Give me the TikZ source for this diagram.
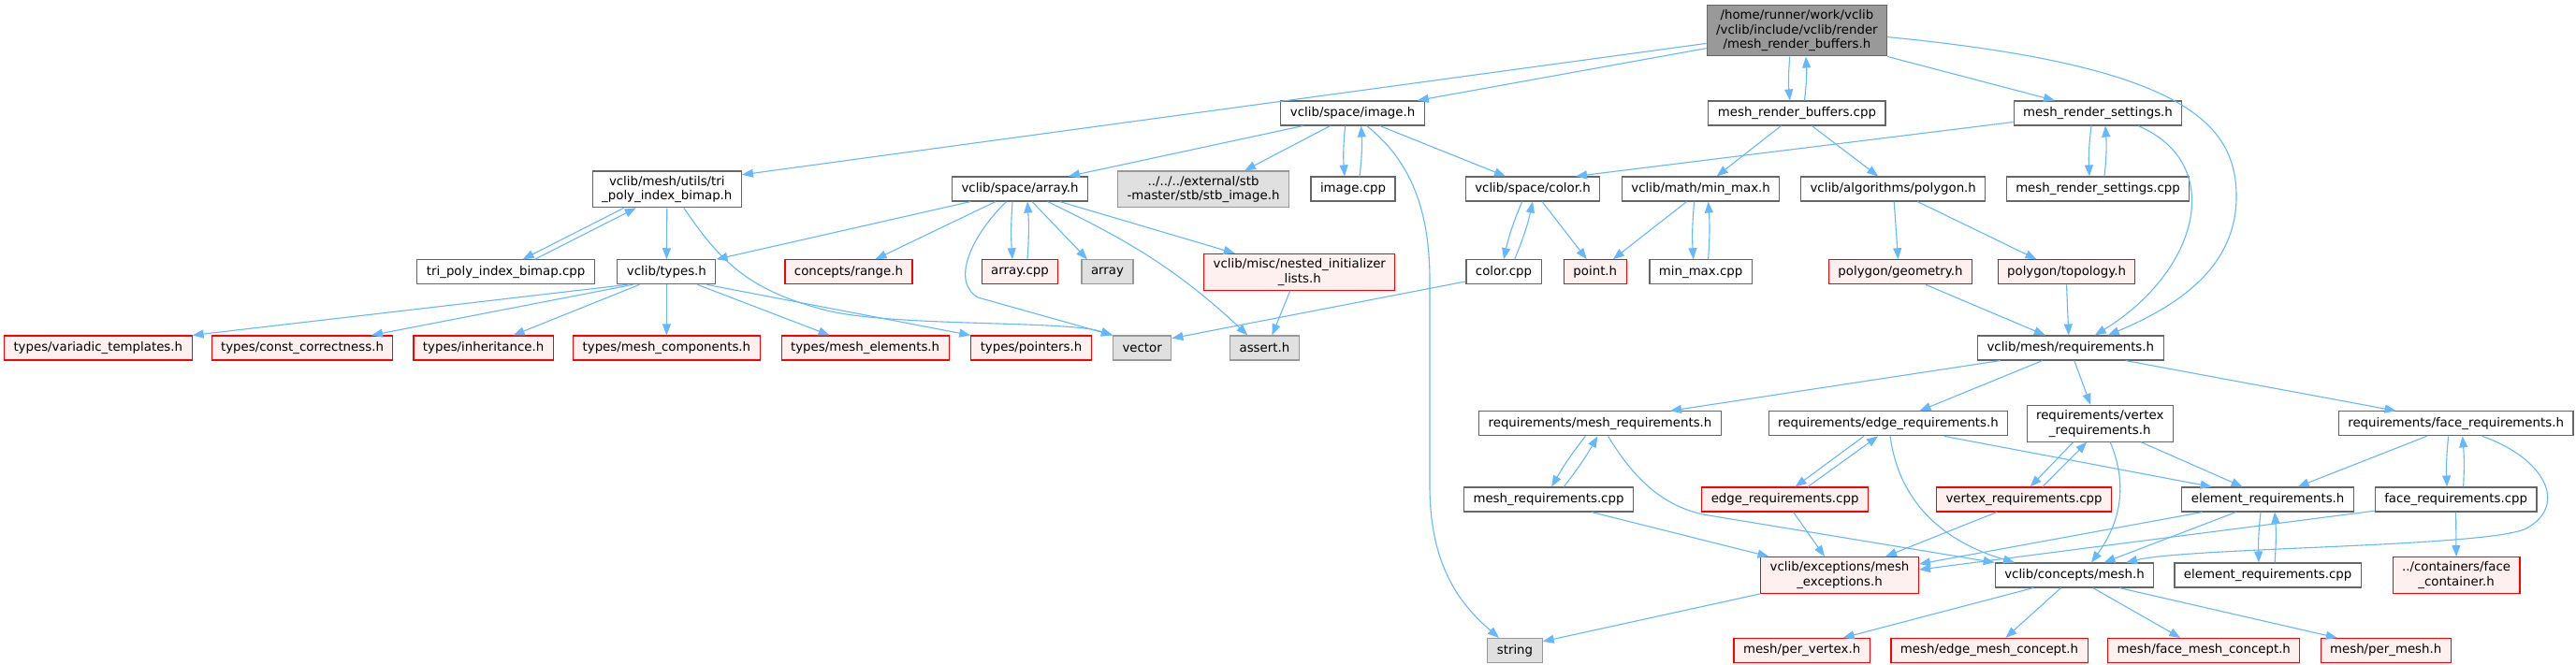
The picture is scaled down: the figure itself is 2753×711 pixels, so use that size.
\documentclass[tikz,border=0pt]{standalone}
\usepackage{fontspec}
\setmainfont{DejaVu Sans}
\usepackage{tikz}
\usetikzlibrary{arrows.meta}
\definecolor{depblue}{HTML}{63B8FF}
\definecolor{grey40}{HTML}{666666}
\definecolor{grey60}{HTML}{999999}
\definecolor{grey87}{HTML}{E0E0E0}
\definecolor{pinkfill}{HTML}{FFF0F0}
\begin{document}
\begin{tikzpicture}[x=1pt,y=-1pt,
  file/.style={draw=grey40,fill=white,line width=1.1pt,inner xsep=10pt,inner ysep=5pt,
    minimum height=26pt,align=center,font=\fontsize{13.33}{15.5}\selectfont},
  main/.style={file,fill=grey60},
  sys/.style={file,draw=grey60,fill=grey87},
  part/.style={file,draw=red,fill=pinkfill},
  dep/.style={draw=depblue,line width=1.1pt,-{Triangle[length=12pt,width=9pt]}}]
\useasboundingbox[fill=white] (0,0) rectangle (2753,711);

\node[main] (buf) at (1920.4,32.8) {/home/runner/work/vclib\\/vclib/include/vclib/render\\/mesh\_render\_buffers.h};
\node[file] (bufcpp) at (1920.4,121) {mesh\_render\_buffers.cpp};
\node[file] (settings) at (2242,121) {mesh\_render\_settings.h};
\node[file] (image) at (1445.6,121) {vclib/space/image.h};

\node[file] (tri) at (712.8,202.4) {vclib/mesh/utils/tri\\\_poly\_index\_bimap.h};
\node[file] (arrayh) at (1090,202) {vclib/space/array.h};
\node[sys] (stb) at (1286,202.4) {../../../external/stb\\-master/stb/stb\_image.h};
\node[file] (imagecpp) at (1446,202) {image.cpp};
\node[file] (colorh) at (1638,202) {vclib/space/color.h};
\node[file] (minmax) at (1817.6,202) {vclib/math/min\_max.h};
\node[file] (polygon) at (2023.2,202) {vclib/algorithms/polygon.h};
\node[file] (settingscpp) at (2242,202) {mesh\_render\_settings.cpp};

\node[file] (tricpp) at (540.6,290.8) {tri\_poly\_index\_bimap.cpp};
\node[file] (types) at (712.4,290.8) {vclib/types.h};
\node[part] (range) at (907,290.8) {concepts/range.h};
\node[part] (arraycpp) at (1090,290.8) {array.cpp};
\node[sys] (arraystd) at (1183.5,290.8) {array};
\node[part] (nested) at (1388.8,290.8) {vclib/misc/nested\_initializer\\\_lists.h};
\node[file] (colorcpp) at (1607,290.8) {color.cpp};
\node[part] (point) at (1704.8,290.8) {point.h};
\node[file] (minmaxcpp) at (1817.6,290.8) {min\_max.cpp};
\node[part] (geometry) at (2031,290.8) {polygon/geometry.h};
\node[part] (topology) at (2208.5,290.8) {polygon/topology.h};

\node[part] (variadic) at (104.8,372) {types/variadic\_templates.h};
\node[part] (constcorr) at (323,372) {types/const\_correctness.h};
\node[part] (inherit) at (516.6,372) {types/inheritance.h};
\node[part] (meshcomp) at (712.4,372) {types/mesh\_components.h};
\node[part] (meshelem) at (924.6,372) {types/mesh\_elements.h};
\node[part] (pointers) at (1102,372) {types/pointers.h};
\node[sys] (vector) at (1220.7,372) {vector};
\node[sys] (assert) at (1351.4,372) {assert.h};
\node[file] (req) at (2212.8,372) {vclib/mesh/requirements.h};

\node[file] (meshreq) at (1710,452.8) {requirements/mesh\_requirements.h};
\node[file] (edgereq) at (2018,452.8) {requirements/edge\_requirements.h};
\node[file] (vertreq) at (2244.2,452.8) {requirements/vertex\\\_requirements.h};
\node[file] (facereq) at (2624.6,452.8) {requirements/face\_requirements.h};

\node[file] (meshreqcpp) at (1655,534) {mesh\_requirements.cpp};
\node[part] (edgereqcpp) at (1907.6,534) {edge\_requirements.cpp};
\node[part] (vertreqcpp) at (2163,534) {vertex\_requirements.cpp};
\node[file] (elemreq) at (2423.6,534) {element\_requirements.h};
\node[file] (facereqcpp) at (2624.6,534) {face\_requirements.cpp};

\node[part] (except) at (1966,615) {vclib/exceptions/mesh\\\_exceptions.h};
\node[file] (concepts) at (2217,615) {vclib/concepts/mesh.h};
\node[file] (elemreqcpp) at (2423.6,615) {element\_requirements.cpp};
\node[part] (container) at (2625,615) {../containers/face\\\_container.h};

\node[sys] (string) at (1619,695.5) {string};
\node[part] (pervertex) at (1925.6,695.5) {mesh/per\_vertex.h};
\node[part] (edgemesh) at (2126,695.5) {mesh/edge\_mesh\_concept.h};
\node[part] (facemesh) at (2355.3,695.5) {mesh/face\_mesh\_concept.h};
\node[part] (permesh) at (2549.7,695.5) {mesh/per\_mesh.h};

\draw[dep] (buf.188) -- (tri.11);
\draw[dep] (buf.191) -- ([xshift=-8pt]image.north east);
\draw[dep] ([xshift=-7.6pt]buf.south) to[bend right=5] ([xshift=-7.6pt]bufcpp.north);
\draw[dep] ([xshift=8pt]bufcpp.north) to[bend right=5] ([xshift=9.6pt]buf.south);
\draw[dep] (buf.south east) -- ([xshift=-46pt]settings.north);
\draw[dep] (buf.-4) .. controls (2330,70) and (2390,130) .. (2390,210)
  .. controls (2390,290) and (2320,330) .. ([xshift=40pt]req.north);

\draw[dep] ([xshift=-53pt]image.south) -- ([xshift=52pt]arrayh.north);
\draw[dep] ([xshift=-24pt]image.south) -- ([xshift=44pt]stb.north);
\draw[dep] ([xshift=-8pt]image.south) to[bend right=5] ([xshift=-9pt]imagecpp.north);
\draw[dep] ([xshift=7pt]imagecpp.north) to[bend right=5] ([xshift=9pt]image.south);
\draw[dep] ([xshift=29pt]image.south) -- ([xshift=-29pt]colorh.north);
\draw[dep] ([xshift=15pt]image.south) .. controls (1505,170) and (1528,220) .. (1528,300)
  -- (1528,520) .. controls (1528,610) and (1565,650) .. ([xshift=-17pt]string.north);

\draw[dep] ([xshift=-17pt]bufcpp.south) -- ([xshift=17pt]minmax.north);
\draw[dep] ([xshift=16pt]bufcpp.south) -- ([xshift=-16pt]polygon.north);
\draw[dep] (settings.186) -- ([xshift=46pt]colorh.north);
\draw[dep] ([xshift=-7pt]settings.south) to[bend right=5] ([xshift=-9pt]settingscpp.north);
\draw[dep] ([xshift=7pt]settingscpp.north) to[bend right=5] ([xshift=8pt]settings.south);
\draw[dep] ([xshift=43pt]settings.south) .. controls (2380,175) and (2350,290) .. ([xshift=26pt]req.north);

\draw[dep] ([xshift=-46pt]tri.south) -- ([xshift=18pt]tricpp.north);
\draw[dep] ([xshift=31pt]tricpp.north) -- ([xshift=-33pt]tri.south);
\draw[dep] (tri.south) -- (types.north);
\draw[dep] ([xshift=18pt]tri.south) .. controls (770,280) and (800,310) .. (880,331)
  .. controls (950,350) and (1140,342) .. (vector.north west);

\draw[dep] ([xshift=-52.6pt]arrayh.south) -- (types.north east);
\draw[dep] ([xshift=-26pt]arrayh.south) -- ([xshift=28.5pt]range.north);
\draw[dep] ([xshift=-8pt]arrayh.south) to[bend right=4] ([xshift=-8pt]arraycpp.north);
\draw[dep] ([xshift=8pt]arraycpp.north) to[bend right=4] ([xshift=8pt]arrayh.south);
\draw[dep] ([xshift=13pt]arrayh.south) -- ([xshift=-21.5pt]arraystd.north);
\draw[dep] ([xshift=-14.5pt]arrayh.south) .. controls (1040,250) and (1015,300) .. (1045,318) -- (vector.north west);
\draw[dep] ([xshift=29.5pt]arrayh.south) .. controls (1190,250) and (1250,280) .. ([xshift=-18pt]assert.north);
\draw[dep] ([xshift=42.6pt]arrayh.south) -- ([xshift=-69pt]nested.north);
\draw[dep] ([xshift=-10pt]nested.south) -- ([xshift=8pt]assert.north);

\draw[dep] ([xshift=-11.4pt]colorh.south) to[bend right=5] (colorcpp.north);
\draw[dep] ([xshift=11.7pt]colorcpp.north) to[bend right=5] (colorh.south);
\draw[dep] ([xshift=10pt]colorh.south) -- ([xshift=-9pt]point.north);
\draw[dep] (colorcpp.194) -- (vector.18);
\draw[dep] ([xshift=-15pt]minmax.south) -- ([xshift=19pt]point.north);
\draw[dep] ([xshift=-7pt]minmax.south) to[bend right=4] ([xshift=-8pt]minmaxcpp.north);
\draw[dep] ([xshift=8pt]minmaxcpp.north) to[bend right=4] ([xshift=8pt]minmax.south);
\draw[dep] ([xshift=1pt]polygon.south) -- ([xshift=-2.5pt]geometry.north);
\draw[dep] ([xshift=26pt]polygon.south) -- ([xshift=-32pt]topology.north);
\draw[dep] ([xshift=27pt]geometry.south) -- ([xshift=-27pt]req.north);
\draw[dep] (topology.south) -- ([xshift=-2pt]req.north);

\draw[dep] ([xshift=-42pt]types.south) -- (variadic.north east);
\draw[dep] ([xshift=-36pt]types.south) -- ([xshift=74pt]constcorr.north);
\draw[dep] ([xshift=-29pt]types.south) -- ([xshift=32pt]inherit.north);
\draw[dep] (types.south) -- (meshcomp.north);
\draw[dep] ([xshift=33pt]types.south) -- ([xshift=-38pt]meshelem.north);
\draw[dep] ([xshift=43pt]types.south) -- (pointers.north west);

\draw[dep] ([xshift=-75pt]req.south) -- ([xshift=75pt]meshreq.north);
\draw[dep] ([xshift=-30pt]req.south) -- ([xshift=33.5pt]edgereq.north);
\draw[dep] ([xshift=4pt]req.south) -- ([xshift=-10pt]vertreq.north);
\draw[dep] ([xshift=58.7pt]req.south) -- ([xshift=-64pt]facereq.north);

\draw[dep] ([xshift=-15.7pt]meshreq.south) to[bend right=4] ([xshift=3.2pt]meshreqcpp.north);
\draw[dep] ([xshift=16.3pt]meshreqcpp.north) to[bend right=4] ([xshift=-2.6pt]meshreq.south);
\draw[dep] ([xshift=8.6pt]meshreq.south) .. controls (1745,510) and (1775,540) .. (1820,550) -- (concepts.north west);
\draw[dep] ([xshift=46pt]meshreqcpp.south) -- ([xshift=-75.5pt]except.north);
\draw[dep] ([xshift=-26pt]edgereq.south) -- ([xshift=11pt]edgereqcpp.north);
\draw[dep] ([xshift=24.4pt]edgereqcpp.north) -- ([xshift=-11pt]edgereq.south);
\draw[dep] ([xshift=59.7pt]edgereq.south) -- ([xshift=-60pt]elemreq.north);
\draw[dep] ([xshift=2pt]edgereq.south) .. controls (2030,540) and (2080,580) .. ([xshift=-64pt]concepts.north);
\draw[dep] ([xshift=-28.5pt]vertreq.south) -- ([xshift=6.7pt]vertreqcpp.north);
\draw[dep] ([xshift=19.8pt]vertreqcpp.north) -- ([xshift=-14pt]vertreq.south);
\draw[dep] ([xshift=44pt]vertreq.south) -- ([xshift=-27pt]elemreq.north);
\draw[dep] ([xshift=11pt]vertreq.south) .. controls (2275,520) and (2265,560) .. ([xshift=18pt]concepts.north);
\draw[dep] ([xshift=-31pt]facereq.south) -- ([xshift=32pt]elemreq.north);
\draw[dep] ([xshift=-8pt]facereq.south) to[bend right=4] ([xshift=-9.5pt]facereqcpp.north);
\draw[dep] ([xshift=8pt]facereqcpp.north) to[bend right=4] ([xshift=7pt]facereq.south);
\draw[dep] ([xshift=28pt]facereq.south) .. controls (2720,490) and (2745,540) .. (2700,565)
  .. controls (2660,585) and (2340,585) .. ([xshift=55pt]concepts.north);

\draw[dep] ([xshift=-70pt]elemreq.south) -- (except.8);
\draw[dep] ([xshift=-34pt]elemreq.south) -- ([xshift=31.5pt]concepts.north);
\draw[dep] ([xshift=-7.6pt]elemreq.south) to[bend right=4] ([xshift=-9.6pt]elemreqcpp.north);
\draw[dep] ([xshift=7.5pt]elemreqcpp.north) to[bend right=4] ([xshift=7.5pt]elemreq.south);
\draw[dep] (facereqcpp.188) -- (except.4);
\draw[dep] (facereqcpp.south) -- (container.north);
\draw[dep] ([xshift=9pt]edgereqcpp.south) -- ([xshift=-16pt]except.north);
\draw[dep] ([xshift=-29pt]vertreqcpp.south) -- ([xshift=49pt]except.north);

\draw[dep] (except.south west) -- (string.18);
\draw[dep] ([xshift=-44pt]concepts.south) -- ([xshift=44pt]pervertex.north);
\draw[dep] ([xshift=-14.5pt]concepts.south) -- ([xshift=17.4pt]edgemesh.north);
\draw[dep] ([xshift=19.7pt]concepts.south) -- ([xshift=-25pt]facemesh.north);
\draw[dep] ([xshift=48pt]concepts.south) -- ([xshift=-52pt]permesh.north);
\end{tikzpicture}
\end{document}
